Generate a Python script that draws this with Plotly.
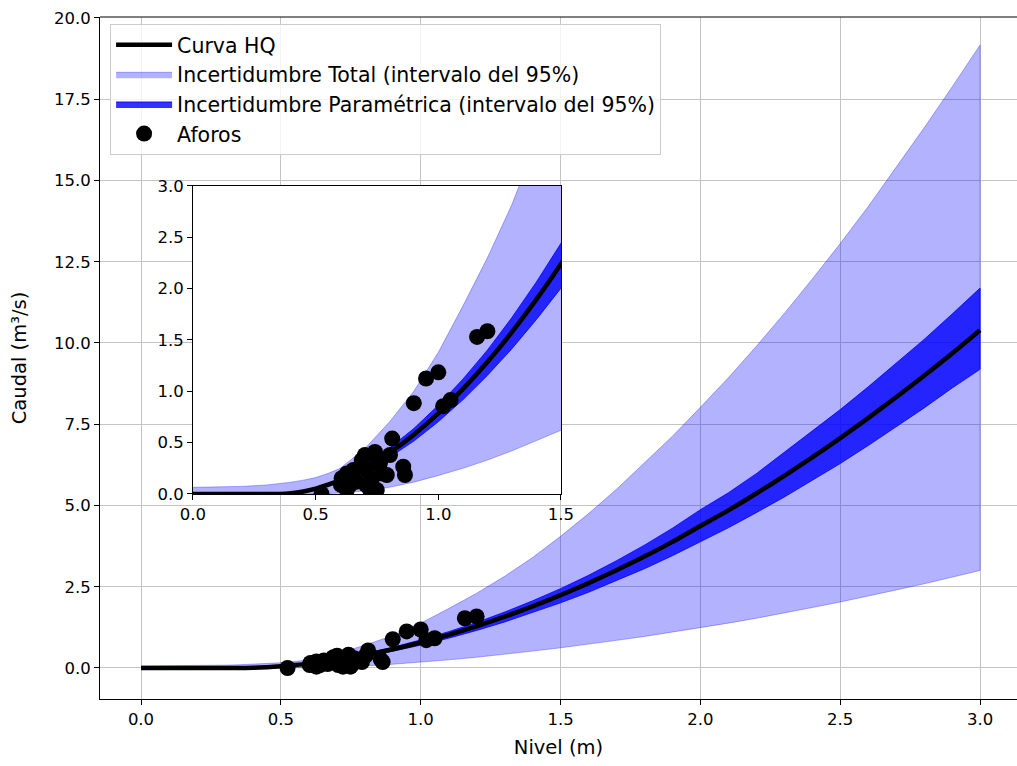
import plotly.graph_objects as go

# ---------------- data ----------------
H = [0.0, 0.1, 0.2, 0.3, 0.35, 0.4, 0.45, 0.5, 0.55, 0.6, 0.7, 0.8, 0.9, 1.0,
     1.1, 1.2, 1.3, 1.4, 1.5, 1.6, 1.7, 1.8, 1.9, 2.0,
     2.1, 2.2, 2.3, 2.4, 2.5, 2.6, 2.7, 2.8, 2.9, 3.0]

Q_CURVE = [0.0, 0.0, 0.0, 0.0, 0.0, 0.007, 0.025, 0.053, 0.09, 0.135, 0.252, 0.399, 0.577, 0.785,
           1.021, 1.285, 1.577, 1.895, 2.24, 2.61, 3.01, 3.43, 3.88, 4.37,
           4.85, 5.37, 5.91, 6.48, 7.07, 7.69, 8.33, 8.99, 9.68, 10.39]

PARAM_UP = [0.002, 0.002, 0.002, 0.003, 0.005, 0.01, 0.03, 0.06, 0.101, 0.152, 0.283, 0.445, 0.637, 0.864,
            1.118, 1.401, 1.719, 2.066, 2.442, 2.85, 3.30, 3.78, 4.30, 4.87,
            5.39, 5.98, 6.63, 7.28, 7.95, 8.65, 9.37, 10.11, 10.89, 11.69]

PARAM_LO = [0.0, 0.0, 0.0, 0.0, 0.0, 0.005, 0.021, 0.046, 0.079, 0.119, 0.223, 0.355, 0.515, 0.704,
            0.917, 1.155, 1.415, 1.70, 2.005, 2.33, 2.685, 3.055, 3.455, 3.885,
            4.315, 4.78, 5.26, 5.77, 6.29, 6.845, 7.41, 8.0, 8.615, 9.19]

TOTAL_UP = [0.065, 0.068, 0.074, 0.088, 0.1, 0.115, 0.135, 0.16, 0.2, 0.25, 0.44, 0.7, 1.0, 1.38,
            1.83, 2.3, 2.82, 3.4, 4.05, 4.75, 5.5, 6.3, 7.13, 8.02,
            8.93, 9.9, 10.91, 11.97, 13.06, 14.2, 15.4, 16.62, 17.88, 19.17]

TOTAL_LO = [0.0, 0.0, 0.0, 0.0, 0.0, 0.0, 0.0, 0.0, 0.003, 0.01, 0.03, 0.065, 0.115, 0.18,
            0.25, 0.33, 0.42, 0.52, 0.62, 0.73, 0.85, 0.97, 1.10, 1.24,
            1.38, 1.53, 1.69, 1.86, 2.03, 2.21, 2.40, 2.59, 2.79, 3.0]

AFOROS_H = [0.524, 0.603, 0.606, 0.627, 0.627, 0.633, 0.64, 0.654, 0.667, 0.681,
            0.688, 0.701, 0.705, 0.708, 0.722, 0.728, 0.742, 0.749, 0.752, 0.762,
            0.769, 0.79, 0.803, 0.812, 0.857, 0.864, 0.9, 0.95, 1.0, 1.02,
            1.05, 1.158, 1.2]
AFOROS_Q = [0.0, 0.09, 0.153, 0.2, 0.04, 0.1, 0.088, 0.234, 0.12, 0.266,
            0.33, 0.38, 0.09, 0.234, 0.04, 0.136, 0.41, 0.04, 0.3, 0.30,
            0.2, 0.185, 0.38, 0.54, 0.266, 0.185, 0.885, 1.125, 1.185, 0.855,
            0.915, 1.53, 1.585]

MAIN_XTICKS = [0.0, 0.5, 1.0, 1.5, 2.0, 2.5, 3.0]
MAIN_YTICKS = [0.0, 2.5, 5.0, 7.5, 10.0, 12.5, 15.0, 17.5, 20.0]
INSET_XTICKS = [0.0, 0.5, 1.0, 1.5]
INSET_YTICKS = [0.0, 0.5, 1.0, 1.5, 2.0, 2.5, 3.0]

# ---------------- styles ----------------
FONT = "DejaVu Sans"
LIGHT = "rgba(0,0,255,0.3)"
DARK = "rgba(0,0,255,0.8)"

fig = go.Figure()


def add_set(xa, ya, legend):
    fig.add_trace(go.Scatter(
        x=H + H[::-1], y=TOTAL_UP + TOTAL_LO[::-1], fill="toself",
        fillcolor=LIGHT, line=dict(color=LIGHT, width=1), mode="lines",
        name="Incertidumbre Total (intervalo del 95%)", legendrank=2,
        showlegend=legend, xaxis=xa, yaxis=ya, hoverinfo="skip"))
    fig.add_trace(go.Scatter(
        x=H + H[::-1], y=PARAM_UP + PARAM_LO[::-1], fill="toself",
        fillcolor=DARK, line=dict(color=DARK, width=1), mode="lines",
        name="Incertidumbre Paramétrica (intervalo del 95%)", legendrank=3,
        showlegend=legend, xaxis=xa, yaxis=ya, hoverinfo="skip"))
    fig.add_trace(go.Scatter(
        x=H, y=Q_CURVE, mode="lines", line=dict(color="black", width=4.5, shape="spline", smoothing=0.6),
        name="Curva HQ", legendrank=1, showlegend=legend, xaxis=xa, yaxis=ya))
    fig.add_trace(go.Scatter(
        x=AFOROS_H, y=AFOROS_Q, mode="markers",
        marker=dict(color="black", size=16, line=dict(width=0)),
        name="Aforos", legendrank=4, showlegend=legend, xaxis=xa, yaxis=ya))


add_set("x", "y", True)
add_set("x2", "y2", False)


def fmt(v):
    return f"{v:.1f}"


axis_common = dict(
    showline=True, linecolor="black", linewidth=1,
    ticks="outside", ticklen=5, tickwidth=1, tickcolor="black",
    tickfont=dict(family=FONT, size=16.5, color="black"),
    zeroline=False, automargin=False,
)

fig.update_layout(
    template="none",
    width=1017, height=766,
    margin=dict(l=100, r=0, t=17, b=67, pad=0, autoexpand=False),
    paper_bgcolor="white", plot_bgcolor="white",
    font=dict(family=FONT, color="black"),
    xaxis=dict(domain=[0, 1], range=[-0.1466, 3.132], mirror=False,
               tickvals=MAIN_XTICKS, ticktext=[fmt(v) for v in MAIN_XTICKS],
               showgrid=True, gridcolor="#c4c4c4", gridwidth=1,
               title=dict(text="Nivel (m)", font=dict(family=FONT, size=19.5), standoff=12),
               **axis_common),
    yaxis=dict(domain=[0, 1], range=[-0.954, 20.03], mirror=False,
               tickvals=MAIN_YTICKS, ticktext=[fmt(v) for v in MAIN_YTICKS],
               showgrid=True, gridcolor="#c4c4c4", gridwidth=1,
               title=dict(text="Caudal (m³/s)", font=dict(family=FONT, size=19.5), standoff=22),
               **axis_common),
    xaxis2=dict(domain=[0.1014, 0.5027], anchor="y2", range=[0, 1.5], mirror=True,
                tickvals=INSET_XTICKS, ticktext=[fmt(v) for v in INSET_XTICKS],
                showgrid=False, **axis_common),
    yaxis2=dict(domain=[0.3006, 0.7522], anchor="x2", range=[0, 3], mirror=True,
                tickvals=INSET_YTICKS, ticktext=[fmt(v) for v in INSET_YTICKS],
                showgrid=False, **axis_common),
    legend=dict(x=0.011, y=0.99, xanchor="left", yanchor="top",
                bgcolor="rgba(255,255,255,0.8)", bordercolor="#cccccc", borderwidth=1,
                font=dict(family=FONT, size=20.5, color="black"),
                itemwidth=56, tracegroupgap=0),
    showlegend=True,
    shapes=[dict(type="line", xref="paper", yref="paper", x0=0, x1=1, y0=1, y1=1,
                 line=dict(color="black", width=1))],
)

fig.write_html(
    "out.html",
    post_script="document.documentElement.style.overflow='hidden';"
                "document.body.style.overflow='hidden';document.body.style.margin='0';",
)
